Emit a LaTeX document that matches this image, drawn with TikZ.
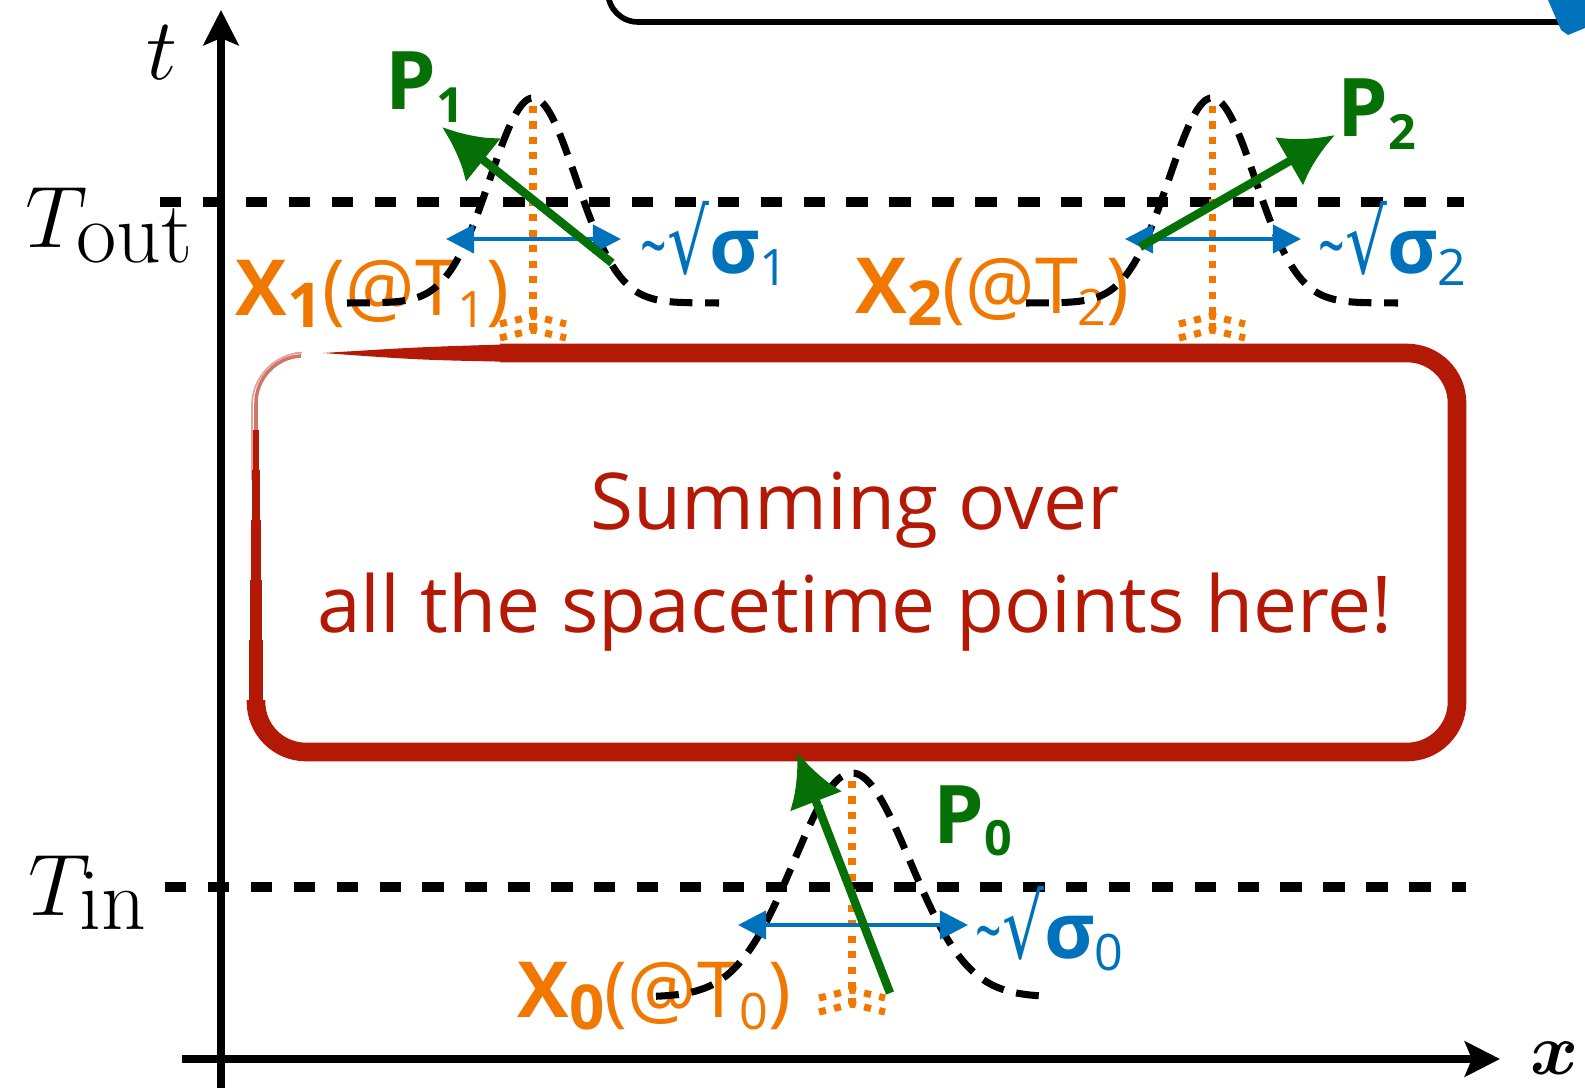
\documentclass[tikz,border=0pt]{standalone}
\usepackage{amsmath}
\usepackage{bm}
\usepackage{graphicx}
\usepackage[no-math]{fontspec}
\setmainfont{Open Sans}
\newfontfamily\rootfont{DejaVu Sans}
\usetikzlibrary{arrows.meta}
\definecolor{SumRed}{RGB}{180,25,5}
\definecolor{PosOrange}{RGB}{240,120,0}
\definecolor{MomGreen}{RGB}{5,112,5}
\definecolor{WidthBlue}{RGB}{0,114,188}
\newcommand{\lowidx}[2][0.65]{\raisebox{-0.16em}{\scalebox{#1}{#2}}}
\newcommand{\slicelab}[1]{$T$\kern-0.12em\raisebox{-0.16em}{\fontsize{23}{26}\selectfont$\mathrm{#1}$}}
\newcommand{\rootsig}[1]{\scalebox{0.6}[1]{\textasciitilde}{\rootfont\scalebox{0.85}[1.15]{√}}\textbf{σ}\lowidx{#1}}

\begin{document}
\begin{tikzpicture}[x=0.01cm,y=-0.01cm,
  level/.style={line width=2.8pt,dash pattern=on 6.1pt off 6.1pt},
  axis/.style={line width=2pt,-{Stealth[length=10pt,width=10pt,inset=2pt]}},
  packet/.style={line width=2pt,dash pattern=on 6.5pt off 3.6pt},
  centreline/.style={PosOrange,line width=2pt,dash pattern=on 2pt off 2.4pt},
  spread/.style={WidthBlue,line width=1.2pt,{Triangle[length=8pt,width=8pt]}-{Triangle[length=8pt,width=8pt]}},
  mom/.style={MomGreen,line width=2.4pt,-{Latex[length=15pt,width=16pt]}},
  axlab/.style={inner sep=0,font=\fontsize{26}{30}\selectfont},
  poslab/.style={inner sep=0,anchor=base west,text=PosOrange,font=\fontsize{22}{26}\selectfont},
  momlab/.style={inner sep=0,anchor=base west,text=MomGreen,font=\fontsize{23}{27}\selectfont\bfseries},
  widlab/.style={inner sep=0,anchor=base west,text=WidthBlue,font=\fontsize{22}{26}\selectfont}]
\useasboundingbox (0,0) rectangle (1585,1088);
\clip (0,0) rectangle (1585,1088);

% box from the slide above, cut off
\draw[line width=1.6pt,rounded corners=0.3cm] (608,-20) -- (608,22) -- (1600,22);
\fill[WidthBlue] (1548,0) -- (1585,0) -- (1585,28) -- (1568,35) -- (1561,30) -- cycle;

% time slices
\coordinate (outL) at (160,202);
\coordinate (outR) at (1464,202);
\coordinate (inL) at (165,887);
\coordinate (inR) at (1466,887);
\draw[level] (outL) -- (outR);
\draw[level] (inL) -- (inR);

% axes
\coordinate (tbot) at (221,1100);
\coordinate (ttop) at (221,10);
\coordinate (xleft) at (182,1059);
\coordinate (xright) at (1500,1059);
\draw[axis] (tbot) -- (ttop);
\draw[axis] (xleft) -- (xright);
\node[axlab] (tlab) at (162,53) {$t$};
\node[axlab,anchor=base west] (tout) at (25,248) {\slicelab{out}};
\node[axlab,anchor=base west] (tin) at (28,915) {\slicelab{in}};
\node[inner sep=0,font=\fontsize{22}{26}\selectfont] (xlab) at (1555,1058) {$\bm{x}$};

% summed region (brush stroke)
\draw[SumRed,line width=5.3pt,rounded corners=0.5cm] (500,353) -- (1457,353) -- (1457,752) -- (256,752) -- (256,700);
\fill[SumRed] (323,353) .. controls (420,347) .. (520,344) -- (520,362) .. controls (420,360) .. (323,353) -- cycle;
\foreach \ya/\yb/\lw in {720/640/3.9, 660/580/3.4, 600/520/2.9, 540/470/2.3, 490/430/1.7}
  \draw[SumRed,line width=\lw pt] (256,\ya) -- (256,\yb);
\draw[SumRed,line width=1pt,opacity=0.6,rounded corners=0.45cm] (256,450) -- (256,358) -- (300,356);
\draw[SumRed,line width=0.5pt,opacity=0.4,rounded corners=0.5cm] (252,480) -- (252,355) -- (295,353);
\node[text=SumRed,font=\fontsize{22.3}{27}\selectfont,anchor=base] (sum1) at (855,529) {Summing over};
\node[text=SumRed,font=\fontsize{22.3}{27}\selectfont,anchor=base] (sum2) at (855,632) {all the spacetime points here!};

% positions
\node[poslab] (x1) at (235,315) {\textbf{X\lowidx[0.8]{1}}(@T\lowidx{1})};
\node[poslab] (x2) at (855,313) {\textbf{X\lowidx[0.8]{2}}(@T\lowidx{2})};
\node[poslab] (x0) at (517,1017) {\textbf{X\lowidx[0.8]{0}}(@T\lowidx{0})};

% wave packets
\foreach \cx/\base/\pk/\sw/\hw/\fy in {533/303/205/43/186/316, 1212/303/205/43/186/316, 852/997/224/58/196/990} {
  \draw[packet] plot[domain={\cx-\hw}:{\cx+\hw},samples=90,smooth] (\x,{\base-\pk*exp(-0.5*((\x-\cx)/\sw)^2)});
  \draw[centreline] (\cx,{\base-\pk+8}) -- (\cx,{\fy+14});
  \draw[centreline] ({\cx-33},{\fy+8}) -- (\cx,\fy) -- ({\cx+33},{\fy+8});
  \draw[centreline] ({\cx-33},{\fy+22}) -- (\cx,{\fy+14}) -- ({\cx+33},{\fy+22});
}

% widths
\coordinate (w1a) at (446,239);
\coordinate (w1b) at (621,239);
\coordinate (w2a) at (1125,239);
\coordinate (w2b) at (1301,239);
\coordinate (w0a) at (738,925);
\coordinate (w0b) at (968,925);
\draw[spread] (w1a) -- (w1b);
\draw[spread] (w2a) -- (w2b);
\draw[spread] (w0a) -- (w0b);
\node[widlab] (s1) at (640,273) {\rootsig{1}};
\node[widlab] (s2) at (1318,273) {\rootsig{2}};
\node[widlab] (s0) at (975,958) {\rootsig{0}};

% momenta
\coordinate (p1s) at (612,263);
\coordinate (p1e) at (442,127);
\coordinate (p2s) at (1140,247);
\coordinate (p2e) at (1335,135);
\coordinate (p0s) at (890,993);
\coordinate (p0e) at (797,752);
\draw[mom] (p1s) -- (p1e);
\draw[mom] (p2s) -- (p2e);
\draw[mom] (p0s) -- (p0e);
\node[momlab] (m1) at (385,110) {P\lowidx[0.6]{1}};
\node[momlab] (m2) at (1337,137) {P\lowidx[0.6]{2}};
\node[momlab] (m0) at (933,843) {P\lowidx[0.6]{0}};
\end{tikzpicture}
\end{document}
